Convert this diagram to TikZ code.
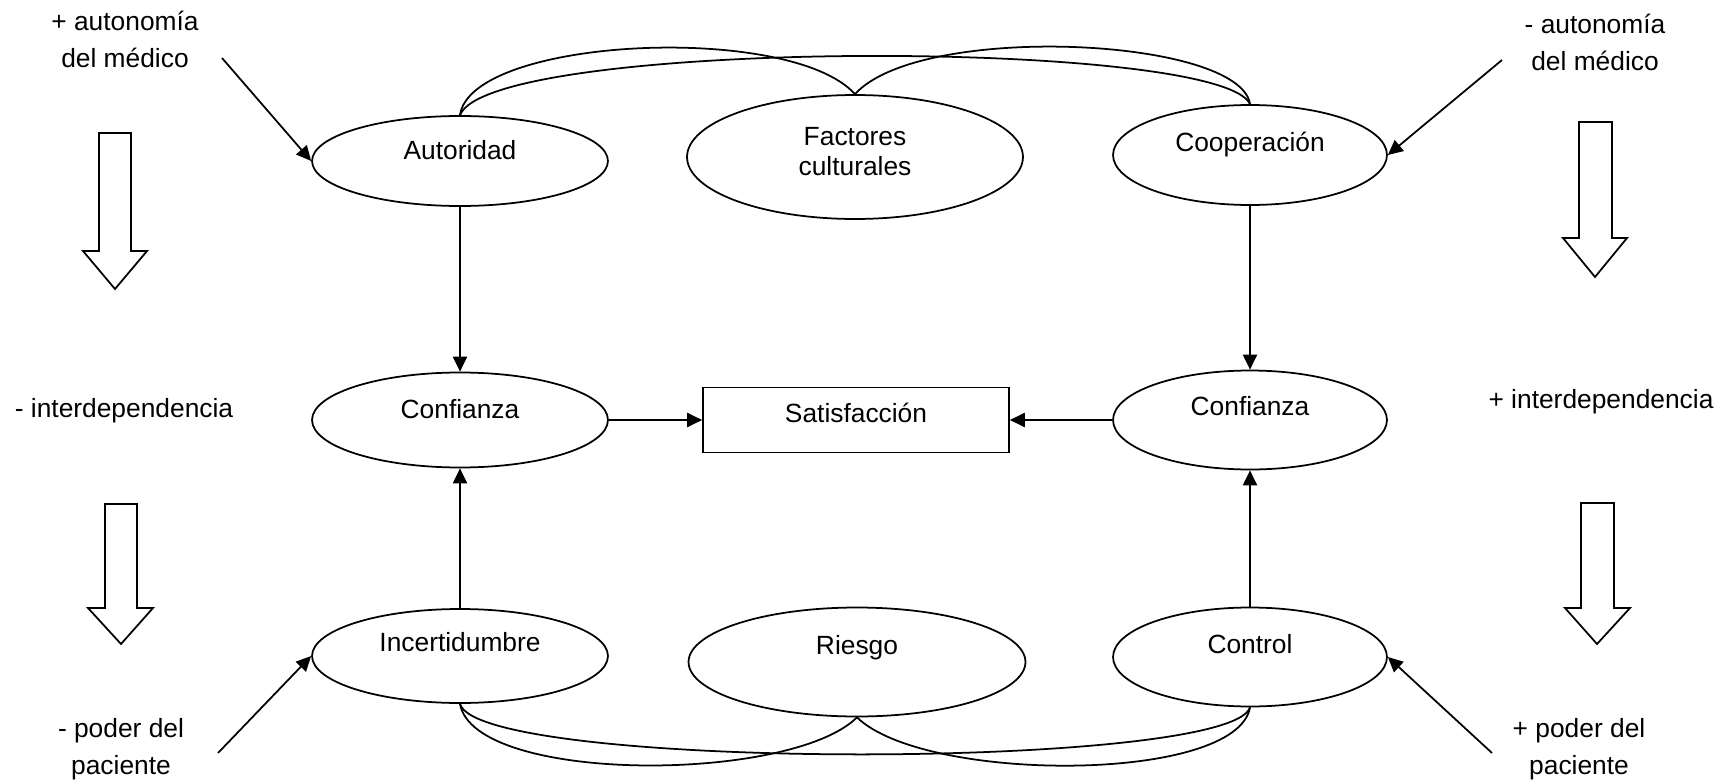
\documentclass[tikz,border=0pt]{standalone}
\usepackage{fontspec}
\setmainfont{Liberation Sans}
\usetikzlibrary{shapes.geometric,arrows.meta}
\begin{document}
\begin{tikzpicture}[x=0.02cm,y=-0.02cm,
  font=\fontsize{15}{20}\selectfont,
  line width=1pt,
  oval/.style={ellipse,draw,inner sep=0pt,text height=11pt},
  box/.style={rectangle,draw,inner sep=0pt,text height=11pt},
  tip/.style={-{Triangle[length=8.5pt,width=8pt]}},
  note/.style={align=center,inner sep=0pt,font=\fontsize{15}{21}\selectfont},
  hollow/.style={draw,fill=white}]
\useasboundingbox (0,0) rectangle (1731,784);

% top row
\node[oval,minimum width=5.92cm,minimum height=1.8cm,text depth=12.3pt] (aut) at (460,161) {Autoridad};
\node[oval,minimum width=6.72cm,minimum height=2.48cm,font=\fontsize{15}{17}\selectfont,
      text height=18.95pt,text depth=15.05pt] (fac) at (855,157)
      {\begin{tabular}{@{}c@{}}Factores\\culturales\end{tabular}};
\node[oval,minimum width=5.48cm,minimum height=2cm,text depth=14.6pt] (coop) at (1250,155) {Cooperación};

% middle row
\node[oval,minimum width=5.92cm,minimum height=1.9cm,text depth=12.3pt] (cl) at (460,420) {Confianza};
\node[box,minimum width=6.12cm,minimum height=1.3cm,text depth=8.3pt] (sat) at (856,420) {Satisfacción};
\node[oval,minimum width=5.48cm,minimum height=1.98cm,text depth=16.3pt] (cr) at (1250,420) {Confianza};

% bottom row
\node[oval,minimum width=5.92cm,minimum height=1.88cm,text depth=15.7pt] (inc) at (460,656) {Incertidumbre};
\node[oval,minimum width=6.74cm,minimum height=2.18cm,text depth=19.1pt] (rie) at (857,662) {Riesgo};
\node[oval,minimum width=5.48cm,minimum height=1.98cm,text depth=14.6pt] (con) at (1250,657) {Control};

% side labels
\node[note] (tl) at (125,39.5) {+ autonomía\\del médico};
\node[note] (tr) at (1595,42) {- autonomía\\del médico};
\node[note] (ml) at (124,411) {- interdependencia};
\node[note] (mr) at (1601,402) {+ interdependencia};
\node[note] (bl) at (121,749.5) {- poder del\\paciente};
\node[note] (br) at (1579,749) {+ poder del\\paciente};

% vertical and horizontal connectors
\draw[tip] (aut) -- (cl);
\draw[tip] (coop) -- (cr);
\draw[tip] (inc) -- (cl);
\draw[tip] (con) -- (cr);
\draw[tip] (cl) -- (sat);
\draw[tip] (cr) -- (sat);

% incoming diagonal arrows
\coordinate (p1) at (222,58);
\coordinate (p2) at (1502,60);
\coordinate (p3) at (218,753);
\coordinate (p4) at (1492,753);
\draw[tip] (p1) -- (aut.west);
\draw[tip] (p2) -- (coop.east);
\draw[tip] (p3) -- (inc.west);
\draw[tip] (p4) -- (con.east);

% arcs joining the top ellipses
\draw (aut.north) .. controls +(11,-78) and +(-65,-72) .. (fac.north);
\draw (fac.north) .. controls +(65,-72) and +(-10,-67) .. (coop.north);
\draw (aut.north) .. controls +(30,-77) and +(-30,-66) .. (coop.north);

% arcs joining the bottom ellipses
\draw (inc.south) .. controls +(14,80) and +(-67,66) .. (rie.south);
\draw (rie.south) .. controls +(68,66) and +(-13,76) .. (con.south);
\draw (inc.south) .. controls +(19,67) and +(-20,63) .. (con.south);

% hollow block arrows
\draw[hollow] (99,133) -- (131,133) -- (131,251) -- (147,251) -- (115,289) -- (83,251) -- (99,251) -- cycle;
\draw[hollow] (1579,122) -- (1612,122) -- (1612,238) -- (1627,238) -- (1595,277) -- (1563,238) -- (1579,238) -- cycle;
\draw[hollow] (105,504) -- (137,504) -- (137,608) -- (153,608) -- (121,644) -- (88,608) -- (105,608) -- cycle;
\draw[hollow] (1581,503) -- (1614,503) -- (1614,608) -- (1630,608) -- (1597,644) -- (1565,608) -- (1581,608) -- cycle;
\end{tikzpicture}
\end{document}
